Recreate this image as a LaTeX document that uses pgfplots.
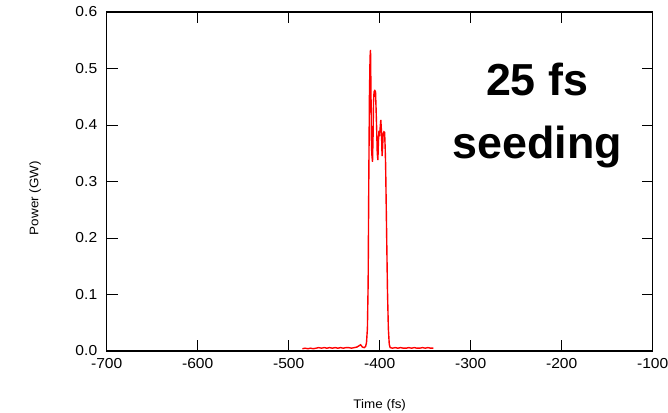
\documentclass[border=0pt]{standalone}
\usepackage{fontspec}
\setmainfont{Liberation Sans}
\newfontfamily\stretchfont[FakeStretch=1.08]{Liberation Sans}
\usepackage{pgfplots}
\pgfplotsset{compat=1.18}
\begin{document}
\begin{tikzpicture}[x=1bp,y=1bp]
\begin{axis}[
  scale only axis, width=546bp, height=339bp,
  xmin=-700, xmax=-100, ymin=0, ymax=0.6,
  xtick={-700,-600,...,-100}, ytick={0,0.1,...,0.6},
  tick align=inside, major tick length=11bp,
  axis line style={line width=1.1pt}, tick style={line width=0.9pt, black},
  /pgf/number format/assume math mode=true,
  yticklabel style={/pgf/number format/fixed, /pgf/number format/fixed zerofill, /pgf/number format/precision=1, xshift=-6bp},
  xticklabel style={/pgf/number format/set thousands separator={}, yshift=-4bp},
  ticklabel style={font=\stretchfont\fontsize{14.5}{15}\selectfont},
  xlabel={Time (fs)}, ylabel={Power (GW)},
  label style={font=\stretchfont\fontsize{12.5}{14}\selectfont},
  xlabel style={at={(axis description cs:0.5,-0.159)}, anchor=center},
  ylabel style={at={(axis description cs:-0.131,0.451)}, anchor=center},
  clip=false,
]
\coordinate (o) at (rel axis cs:0,0);
\addplot[red, line width=1.4pt] coordinates {
(-485,0.004) (-482,0.005) (-479,0.004) (-476,0.005) (-473,0.004) (-470,0.005)
(-467,0.006) (-464,0.005) (-461,0.006) (-458,0.005) (-455,0.006) (-452,0.005)
(-449,0.006) (-446,0.005) (-443,0.006) (-440,0.005) (-437,0.006) (-434,0.006)
(-431,0.005) (-428,0.006) (-425,0.007) (-423,0.009) (-421,0.011) (-419,0.007)
(-417,0.006) (-415.5,0.008) (-414.5,0.015) (-413.5,0.04) (-412.7,0.12)
(-412,0.30) (-411.3,0.45) (-410.6,0.52) (-410.1,0.533) (-409.6,0.46)
(-409.0,0.36) (-408.5,0.345) (-407.9,0.335) (-407.3,0.38) (-406.8,0.44)
(-406.2,0.459) (-405.4,0.461) (-404.6,0.459) (-404.0,0.43) (-403.3,0.39)
(-402.7,0.35) (-402.0,0.338) (-401.4,0.37) (-400.8,0.39) (-400.2,0.38)
(-399.5,0.395) (-398.8,0.409) (-398.1,0.39) (-397.4,0.345) (-396.8,0.36)
(-396.2,0.385) (-395.4,0.388) (-394.6,0.387) (-394.0,0.36) (-393.5,0.33)
(-392.5,0.22) (-391.5,0.11) (-390.5,0.04) (-389.5,0.012) (-388.5,0.006)
(-386,0.005) (-383,0.006) (-380,0.005) (-377,0.006) (-374,0.005) (-371,0.005)
(-368,0.006) (-365,0.005) (-362,0.006) (-359,0.005) (-356,0.005) (-353,0.006)
(-350,0.005) (-347,0.006) (-344,0.005) (-341,0.005)
};
\node[anchor=base, font=\bfseries\fontsize{45}{45}\selectfont] at (axis cs:-227,0.453) {25 fs};
\node[anchor=base, font=\bfseries\fontsize{45}{45}\selectfont] at (axis cs:-227,0.341) {seeding};
\end{axis}
\pgfresetboundingbox
\path[use as bounding box] ([shift={(-106.7,-61)}]o) rectangle ([shift={(561.3,351)}]o);
\end{tikzpicture}
\end{document}
